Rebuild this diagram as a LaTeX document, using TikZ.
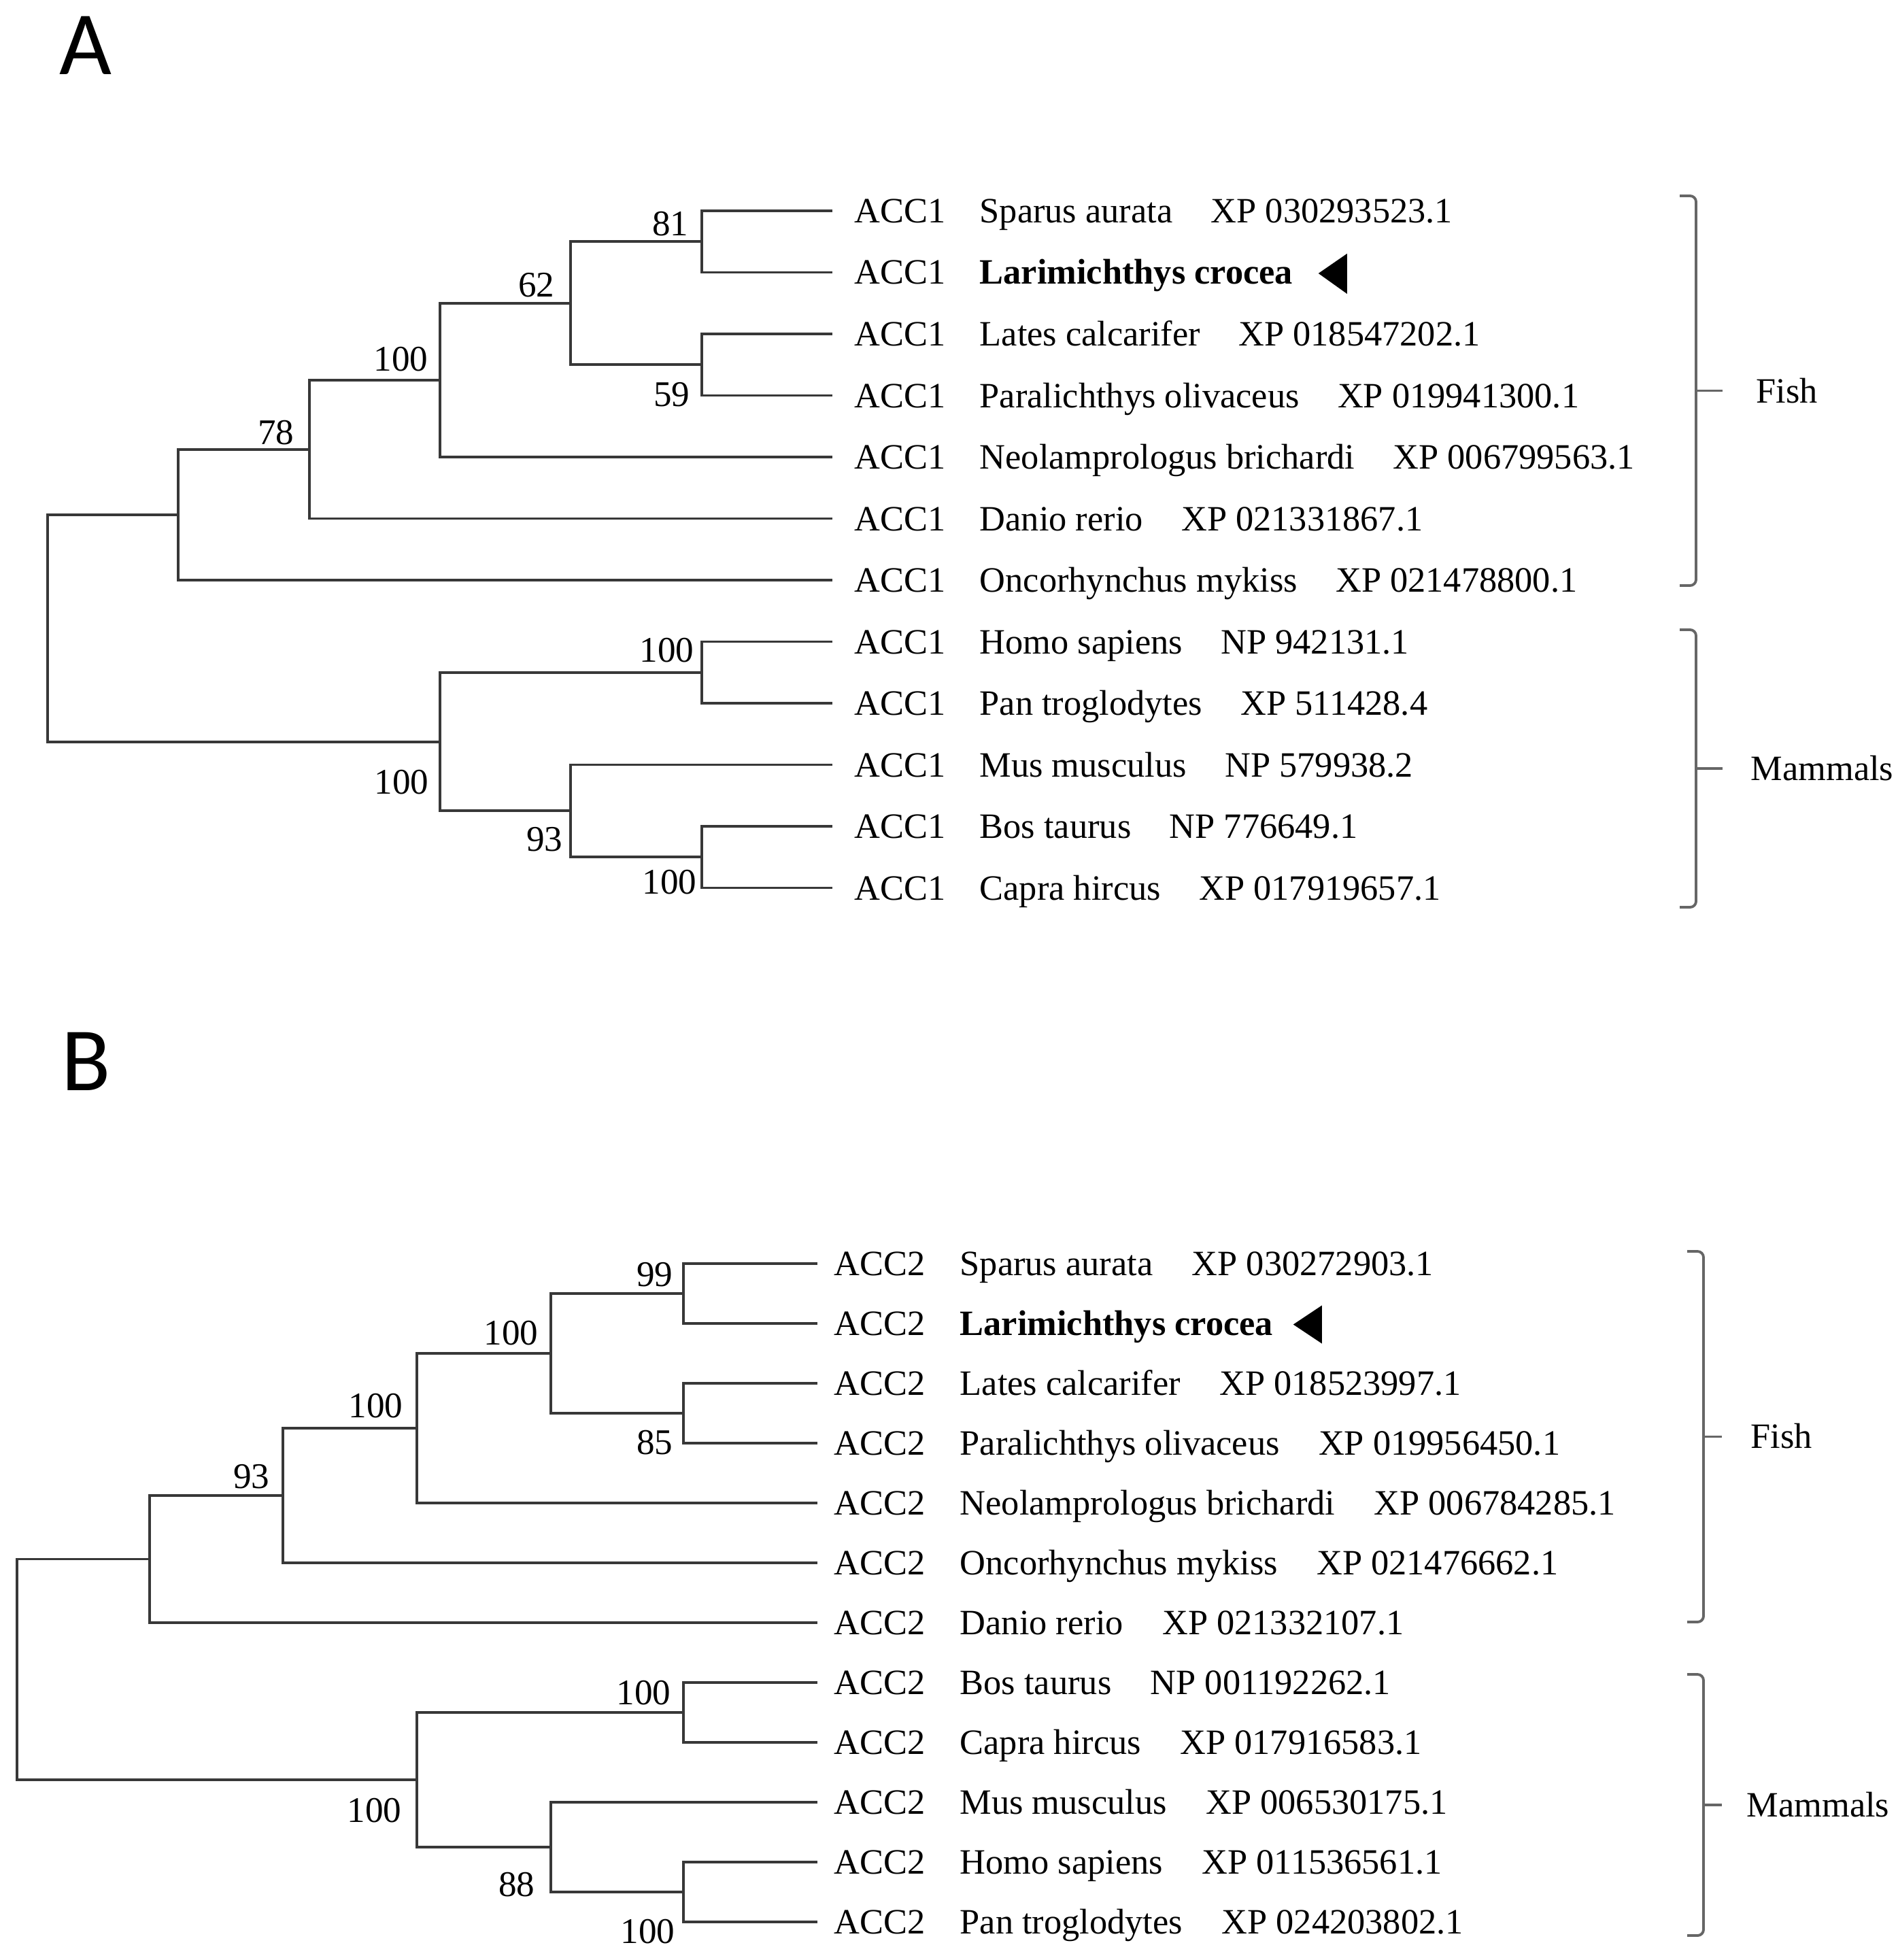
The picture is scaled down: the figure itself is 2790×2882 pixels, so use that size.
\documentclass[tikz,border=0pt]{standalone}
\usepackage{fontspec}
\setmainfont{Liberation Serif}
\newfontfamily\panelfont{Carlito}
\usetikzlibrary{calc}
\begin{document}
\begin{tikzpicture}[x=0.01cm,y=-0.01cm,
  br/.style={line width=1.1pt, draw=black!78, line cap=rect},
  brk/.style={line width=1.1pt, draw=black!60, rounded corners=2.5pt},
  tip/.style={inner sep=0pt, anchor=base west, font=\fontsize{14.9}{17}\selectfont},
  boot/.style={inner sep=0pt, anchor=base east, font=\fontsize{15.1}{18}\selectfont},
  panel/.style={inner sep=0pt, anchor=base west, font=\panelfont\fontsize{37.8}{40}\selectfont},
  tri/.style={fill=black}]
\useasboundingbox (0,0) rectangle (2790,2882);

% ---------------- Panel A ----------------
\node[panel] (labA) at (87,110) {A};

% leaf tips
\foreach \i/\y in {1/310,2/400.5,3/491,4/581.5,5/672,6/762.5,7/853,8/943.5,9/1034,10/1124.5,11/1215,12/1305.5}{
  \coordinate (lA\i) at (1222,\y);
  \node[tip] (gA\i) at (1256,\y+17.5) {ACC1};
}
\node[tip] (sA1) at (1440,327.5) {Sparus aurata};
\node[tip] (sA2) at (1440,418) {\bfseries Larimichthys crocea};
\node[tip] (sA3) at (1440,508.5) {Lates calcarifer};
\node[tip] (sA4) at (1440,599) {Paralichthys olivaceus};
\node[tip] (sA5) at (1440,689.5) {Neolamprologus brichardi};
\node[tip] (sA6) at (1440,780) {Danio rerio};
\node[tip] (sA7) at (1440,870.5) {Oncorhynchus mykiss};
\node[tip] (sA8) at (1440,961) {Homo sapiens};
\node[tip] (sA9) at (1440,1051.5) {Pan troglodytes};
\node[tip] (sA10) at (1440,1142) {Mus musculus};
\node[tip] (sA11) at (1440,1232.5) {Bos taurus};
\node[tip] (sA12) at (1440,1323) {Capra hircus};
\foreach \i/\acc in {1/XP 030293523.1,3/XP 018547202.1,4/XP 019941300.1,5/XP 006799563.1,6/XP 021331867.1,7/XP 021478800.1,8/NP 942131.1,9/XP 511428.4,10/NP 579938.2,11/NP 776649.1,12/XP 017919657.1}{
  \node[tip] (pA\i) at ($(sA\i.base east)+(55,0)$) {\acc};
}
\fill[tri] ($(sA2.base east)+(37,-16)$) -- ++(42,-29) -- ++(0,59) -- cycle;

% internal nodes
\coordinate (nA1) at (1032,355.25);
\coordinate (nA2) at (1032,536.25);
\coordinate (nA3) at (839,445.75);
\coordinate (nA4) at (647,558.9);
\coordinate (nA5) at (455,660.7);
\coordinate (nA6) at (262,756.8);
\coordinate (nA7) at (1032,988.75);
\coordinate (nA8) at (1032,1260.25);
\coordinate (nA9) at (839,1192.4);
\coordinate (nA10) at (647,1090.6);
\coordinate (rA) at (70,923.7);

\draw[br] (lA1) -| (nA1) |- (lA2);
\draw[br] (lA3) -| (nA2) |- (lA4);
\draw[br] (nA1) -| (nA3) |- (nA2);
\draw[br] (nA3) -| (nA4) |- (lA5);
\draw[br] (nA4) -| (nA5) |- (lA6);
\draw[br] (nA5) -| (nA6) |- (lA7);
\draw[br] (lA8) -| (nA7) |- (lA9);
\draw[br] (lA11) -| (nA8) |- (lA12);
\draw[br] (lA10) -| (nA9) |- (nA8);
\draw[br] (nA7) -| (nA10) |- (nA9);
\draw[br] (nA6) -| (rA) |- (nA10);

% bootstrap values
\node[boot] (bA1) at (1013,347) {81};
\node[boot] (bA2) at (1015,597) {59};
\node[boot] (bA3) at (816,436) {62};
\node[boot] (bA4) at (630,545) {100};
\node[boot] (bA5) at (433,653) {78};
\node[boot] (bA7) at (1021,973) {100};
\node[boot] (bA10) at (631,1167) {100};
\node[boot] (bA9) at (828,1251) {93};
\node[boot] (bA8) at (1025,1314) {100};

% group brackets
\draw[brk] (2470,288) -- (2494,288) -- (2494,861) -- (2470,861);
\draw[brk] (2494,574.5) -- (2533,574.5);
\node[tip] (fishA) at (2582,592) {Fish};
\draw[brk] (2470,926) -- (2494,926) -- (2494,1334) -- (2470,1334);
\draw[brk] (2494,1130) -- (2533,1130);
\node[tip] (mamA) at (2574,1147) {Mammals};

% ---------------- Panel B ----------------
\node[panel] (labB) at (90,1603) {B};

\foreach \i/\y in {1/1858,2/1946,3/2034,4/2122,5/2210,6/2298,7/2386,8/2474,9/2562,10/2650,11/2738,12/2826}{
  \coordinate (lB\i) at (1200,\y);
  \node[tip] (gB\i) at (1226,\y+17.5) {ACC2};
}
\node[tip] (sB1) at (1411,1875.5) {Sparus aurata};
\node[tip] (sB2) at (1411,1963.5) {\bfseries Larimichthys crocea};
\node[tip] (sB3) at (1411,2051.5) {Lates calcarifer};
\node[tip] (sB4) at (1411,2139.5) {Paralichthys olivaceus};
\node[tip] (sB5) at (1411,2227.5) {Neolamprologus brichardi};
\node[tip] (sB6) at (1411,2315.5) {Oncorhynchus mykiss};
\node[tip] (sB7) at (1411,2403.5) {Danio rerio};
\node[tip] (sB8) at (1411,2491.5) {Bos taurus};
\node[tip] (sB9) at (1411,2579.5) {Capra hircus};
\node[tip] (sB10) at (1411,2667.5) {Mus musculus};
\node[tip] (sB11) at (1411,2755.5) {Homo sapiens};
\node[tip] (sB12) at (1411,2843.5) {Pan troglodytes};
\foreach \i/\acc in {1/XP 030272903.1,3/XP 018523997.1,4/XP 019956450.1,5/XP 006784285.1,6/XP 021476662.1,7/XP 021332107.1,8/NP 001192262.1,9/XP 017916583.1,10/XP 006530175.1,11/XP 011536561.1,12/XP 024203802.1}{
  \node[tip] (pB\i) at ($(sB\i.base east)+(56,0)$) {\acc};
}
\fill[tri] ($(sB2.base east)+(29,-16)$) -- ++(42,-28) -- ++(0,56) -- cycle;

\coordinate (nB1) at (1005,1902);
\coordinate (nB2) at (1005,2078);
\coordinate (nB3) at (810,1990);
\coordinate (nB4) at (613,2100);
\coordinate (nB5) at (416,2199);
\coordinate (nB6) at (220,2292.5);
\coordinate (nB7) at (1005,2518);
\coordinate (nB8) at (1005,2782);
\coordinate (nB9) at (810,2716);
\coordinate (nB10) at (613,2617);
\coordinate (rB) at (25,2454.75);

\draw[br] (lB1) -| (nB1) |- (lB2);
\draw[br] (lB3) -| (nB2) |- (lB4);
\draw[br] (nB1) -| (nB3) |- (nB2);
\draw[br] (nB3) -| (nB4) |- (lB5);
\draw[br] (nB4) -| (nB5) |- (lB6);
\draw[br] (nB5) -| (nB6) |- (lB7);
\draw[br] (lB8) -| (nB7) |- (lB9);
\draw[br] (lB11) -| (nB8) |- (lB12);
\draw[br] (lB10) -| (nB9) |- (nB8);
\draw[br] (nB7) -| (nB10) |- (nB9);
\draw[br] (nB6) -| (rB) |- (nB10);

\node[boot] (bB1) at (990,1891) {99};
\node[boot] (bB3) at (792,1977) {100};
\node[boot] (bB4) at (593,2084) {100};
\node[boot] (bB5) at (397,2188) {93};
\node[boot] (bB2) at (990,2138) {85};
\node[boot] (bB7) at (987,2506) {100};
\node[boot] (bB10) at (591,2679) {100};
\node[boot] (bB9) at (787,2788) {88};
\node[boot] (bB8) at (993,2857) {100};

\draw[brk] (2481,1840) -- (2505,1840) -- (2505,2385) -- (2481,2385);
\draw[brk] (2505,2112.5) -- (2532,2112.5);
\node[tip] (fishB) at (2574,2129) {Fish};
\draw[brk] (2481,2462) -- (2505,2462) -- (2505,2846) -- (2481,2846);
\draw[brk] (2505,2654) -- (2532,2654);
\node[tip] (mamB) at (2568,2671) {Mammals};
\end{tikzpicture}
\end{document}
